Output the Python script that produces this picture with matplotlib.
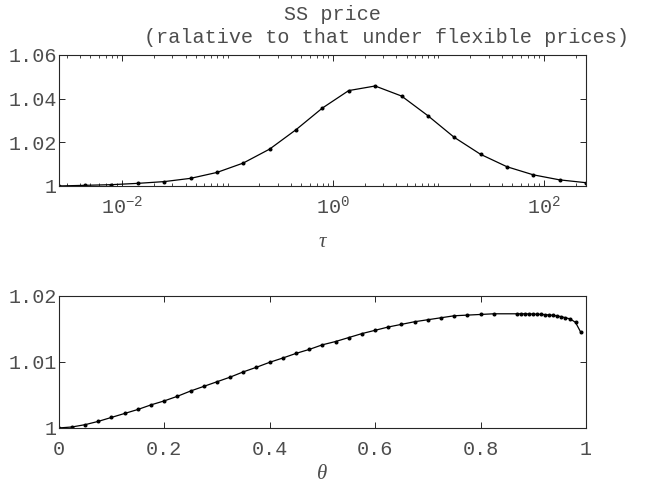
import matplotlib
matplotlib.use("Agg")
import matplotlib.pyplot as plt
from matplotlib.ticker import FuncFormatter, LogLocator, NullFormatter

plt.rcParams["font.family"] = ["Liberation Mono", "DejaVu Sans Mono"]
plt.rcParams["mathtext.fontset"] = "custom"
plt.rcParams["mathtext.rm"] = "Liberation Mono"
plt.rcParams["mathtext.it"] = "Liberation Serif:italic"
plt.rcParams["font.size"] = 14.5

# top panel: steady state price against tau (log scale)
tau = [0.00251, 0.00447, 0.00794, 0.0141, 0.0251, 0.0447, 0.0794, 0.141,
       0.251, 0.447, 0.794, 1.41, 2.51, 4.47, 7.94, 14.1, 25.1, 44.7,
       79.4, 141, 251]
price_tau = [1.0000, 1.0003, 1.0006, 1.0012, 1.0020, 1.0035, 1.0062, 1.0105,
             1.0169, 1.0258, 1.0357, 1.0437, 1.0458, 1.0412, 1.0322, 1.0223,
             1.0145, 1.0088, 1.0051, 1.0028, 1.0015]

# bottom panel: steady state price against theta
theta = [0.0, 0.025, 0.05, 0.075, 0.1, 0.125, 0.15, 0.175, 0.2, 0.225,
         0.25, 0.275, 0.3, 0.325, 0.35, 0.375, 0.4, 0.425, 0.45, 0.475,
         0.5, 0.525, 0.55, 0.575, 0.6, 0.625, 0.65, 0.675, 0.7, 0.725,
         0.75, 0.775, 0.8, 0.825,
         0.87, 0.8775, 0.885, 0.8925, 0.9, 0.9075, 0.915, 0.9225, 0.93,
         0.9375, 0.945, 0.9525, 0.96, 0.97, 0.98, 0.99]
price_theta = [1.0000, 1.00015, 1.0005, 1.0010, 1.0016, 1.0022, 1.0028, 1.0035,
               1.0041, 1.0048, 1.0056, 1.0063, 1.0070, 1.0077, 1.0085, 1.0092,
               1.00995, 1.0106, 1.0113, 1.0119, 1.0126, 1.0131, 1.0137, 1.0143,
               1.0148, 1.0153, 1.0157, 1.0161, 1.0164, 1.0167, 1.0170, 1.0171,
               1.0172, 1.0173,
               1.0173, 1.0173, 1.0173, 1.01727, 1.01727, 1.01722, 1.01722,
               1.01717, 1.01712, 1.01707, 1.01697, 1.01687, 1.01672, 1.01652,
               1.0160, 1.0145]

text_col = "#4d4d4d"
axis_col = "#262626"

fig = plt.figure(figsize=(6.46, 4.88), dpi=100)
ax1 = fig.add_axes([0.0909, 0.6189, 0.8163, 0.2684])
ax2 = fig.add_axes([0.0909, 0.1230, 0.8163, 0.2705])


def style(ax, xpad):
    for s in ax.spines.values():
        s.set_color(axis_col)
        s.set_linewidth(0.8)
    ax.tick_params(which="both", direction="in", top=True, right=True,
                   colors=axis_col, labelcolor=text_col)
    ax.tick_params(which="major", length=4.3, width=0.7)
    ax.tick_params(which="minor", length=2.2, width=0.6)
    ax.tick_params(axis="y", pad=1.5)
    ax.tick_params(axis="x", pad=xpad)
    ax.yaxis.set_major_formatter(FuncFormatter(lambda v, _: f"{v:g}"))


ax1.plot(tau, price_tau, color="black", lw=0.9, marker="o", ms=1.9)
ax1.set_xscale("log")
ax1.set_xlim(tau[0], tau[-1])
ax1.set_ylim(1, 1.06)
ax1.set_yticks([1, 1.02, 1.04, 1.06])
ax1.set_xticks([1e-2, 1, 1e2])
ax1.set_xticklabels(["$10^{-2}$", "$10^{0}$", "$10^{2}$"])
ax1.xaxis.set_minor_locator(LogLocator(base=10, subs=range(1, 10), numticks=30))
ax1.xaxis.set_minor_formatter(NullFormatter())
style(ax1, 7)
ax1.set_xlabel("τ", family="Liberation Serif", style="italic", fontsize=15,
               color=text_col, va="center")
ax1.xaxis.set_label_coords(0.5, -0.435)

ax2.plot(theta, price_theta, color="black", lw=0.9, marker="o", ms=1.9)
ax2.set_xlim(0, 1)
ax2.set_ylim(1, 1.02)
ax2.set_yticks([1, 1.01, 1.02])
ax2.set_xticks([0, 0.2, 0.4, 0.6, 0.8, 1])
ax2.xaxis.set_major_formatter(FuncFormatter(lambda v, _: f"{v:g}"))
style(ax2, 8.5)
ax2.set_xlabel("θ", family="Liberation Serif", style="italic", fontsize=15,
               color=text_col, va="center")
ax2.xaxis.set_label_coords(0.5, -0.352)

fig.text(333 / 646, 1 - 20 / 488, "SS price", ha="center", va="baseline",
         color=text_col)
fig.text(386 / 646, 1 - 42.7 / 488, "(ralative to that under flexible prices)",
         ha="center", va="baseline", color=text_col)

fig.savefig("out.png", dpi=100)
